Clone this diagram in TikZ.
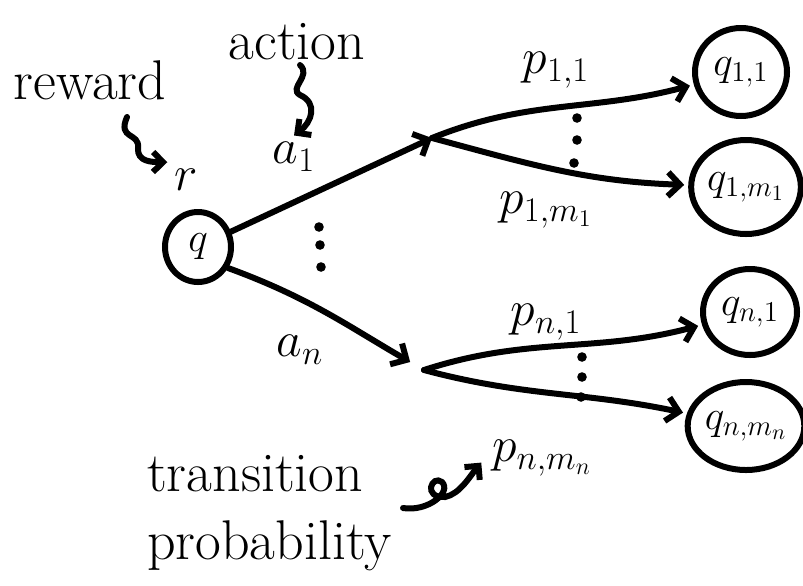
\documentclass[tikz,border=0pt]{standalone}
\usepackage{amsmath}
\usetikzlibrary{arrows.meta, positioning, shapes.geometric}

\begin{document}
\begin{tikzpicture}[x=0.5pt, y=-0.5pt,
  state/.style={draw, ellipse, line width=3pt, inner sep=0pt, font=\fontsize{21}{25}\selectfont},
  lbl/.style={font=\fontsize{23}{28}\selectfont},
  word/.style={font=\fontsize{28}{34}\selectfont},
  arrow/.style={-{Straight Barb[length=6pt, width=12pt]}, line width=3pt, line cap=round},
  curly/.style={-{Straight Barb[length=5pt, width=10pt]}, line width=3pt, line cap=round},
  dot/.style={fill=black},
]
  \useasboundingbox (0,0) rectangle (803,585);

  % states
  \node[state, minimum width=33pt, minimum height=35pt] (q)    at (198,247) {$q$};
  \node[state, minimum width=46pt, minimum height=44pt] (q11)  at (741,72)  {$q_{1,1}$};
  \node[state, minimum width=52pt, minimum height=47pt] (q1m)  at (746,187) {$q_{1,m_1}$};
  \node[state, minimum width=47pt, minimum height=43pt] (qn1)  at (750,312) {$q_{n,1}$};
  \node[state, minimum width=55pt, minimum height=44pt] (qnm)  at (746,426) {$q_{n,m_n}$};

  % branch points
  \coordinate (b1) at (432,138);
  \coordinate (bn) at (424,370);

  % labels
  \node[word] (reward) at (90,80)  {reward};
  \node[word] (r)      at (186,180) {$r$};
  \node[word] (action) at (297,42) {action};
  \node[lbl]  (a1)     at (294,157) {$a_1$};
  \node[lbl]  (an)     at (300,350) {$a_n$};
  \node[lbl]  (p11)    at (556,70)  {$p_{1,1}$};
  \node[lbl]  (p1m)    at (546,210) {$p_{1,m_1}$};
  \node[lbl]  (pn1)    at (546,322) {$p_{n,1}$};
  \node[lbl]  (pnm)    at (542,458) {$p_{n,m_n}$};
  \node[word, align=left, anchor=west] (trans) at (140,513) {transition\\probability};

  % actions
  \draw[arrow] (q) -- (b1);
  \draw[arrow, shorten >=8pt] (q.-35) to[out=-20, in=150] (bn);

  % transitions
  \draw[arrow, shorten >=2pt] (b1) to[out=22, in=195] (q11);
  \draw[arrow, shorten >=2pt] (b1) to[out=-15, in=178] (q1m);
  \draw[arrow, shorten >=2pt] (bn) to[out=18, in=195] (qn1);
  \draw[arrow, shorten >=2pt] (bn) to[out=-15, in=168] (qnm);

  % dots
  \foreach \x/\y in {319/227, 320/245, 321/267, 577/118, 577/140, 574/163, 582/357, 582/377, 581/397}
    \fill[dot] (\x,\y) circle[radius=2.4pt];

  % curly pointers
  \coordinate (rewtail) at (127,117);
  \coordinate (acttail) at (300,65);
  \coordinate (trtail)  at (403,508);
  \draw[curly] (rewtail) .. controls (117,140) and (140,132) .. (138,148)
    .. controls (137,162) and (152,162) .. (r.north west);
  \draw[curly] (acttail) .. controls (312,76) and (288,88) .. (300,95)
    .. controls (318,103) and (312,122) .. (a1.north);
  \draw[curly, shorten >=3pt] (trtail) .. controls (428,512) and (452,492) .. (442,482)
    .. controls (432,474) and (422,498) .. (445,497)
    .. controls (460,494) and (470,476) .. (pnm.west);
\end{tikzpicture}
\end{document}
